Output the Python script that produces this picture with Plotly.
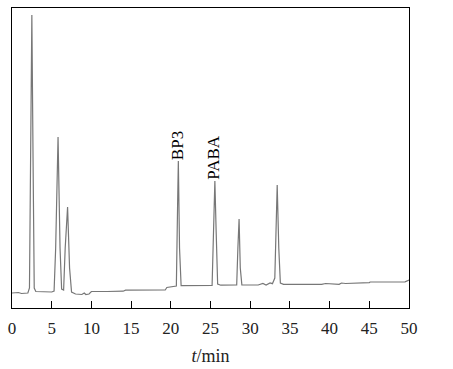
import plotly.graph_objects as go

# Chromatogram trace: retention time (min) and detector signal (arb.)
time_min = [0, 0.8, 1.2, 2.0, 2.2, 2.35, 2.5, 2.65, 2.8, 3.0, 4.0, 5.0, 5.3, 5.5, 5.8, 6.05, 6.25,
            6.5, 6.7, 7.0, 7.25, 7.5, 8.0, 8.8, 9.1, 9.3, 9.7, 10.0, 12.0, 14.0, 14.3, 19.3, 19.5,
            20.5, 20.7, 20.85, 20.95, 21.1, 21.3, 25.2, 25.35, 25.55, 25.7, 25.9, 26.3, 28.3, 28.45,
            28.6, 28.75, 28.95, 29.5, 31.0, 31.6, 32.0, 32.5, 32.8, 33.1, 33.4, 33.6, 33.8, 34.2,
            39.0, 39.5, 40.2, 40.6, 41.2, 41.5, 42.0, 45.0, 45.1, 49.5, 49.8, 50.0]
signal = [15, 15.5, 14.5, 15, 20, 150, 293, 150, 20, 16.5, 16.5, 16, 17, 60, 171, 60, 19,
          18, 60, 101, 40, 16, 14, 13.5, 15, 13.5, 14, 16.5, 16.5, 16.8, 17.8, 18, 20.5,
          21.3, 22, 100, 147, 60, 22.3, 22.5, 60, 127, 80, 24, 22.8, 23, 60,
          89, 40, 23.2, 23, 23, 24.5, 23, 25, 24.3, 30, 123, 60, 25, 23.7,
          23.7, 24.5, 24.2, 23.3, 23.7, 25, 24.5, 25.3, 26, 26.2, 27.5, 28]

peak_labels = ["BP3", "PABA"]
label_x = [20.8, 25.28]
label_y = [162, 151]

tick_vals = [0, 5, 10, 15, 20, 25, 30, 35, 40, 45, 50]
tick_text = ["0", "5", "10", "15", "20", "25", "30", "35", "40", "45", "50"]

fig = go.Figure()
fig.add_trace(go.Scatter(x=time_min, y=signal, mode="lines",
                         line=dict(color="#777777", width=1.2), showlegend=False,
                         hoverinfo="skip"))

for txt, xv, yv in zip(peak_labels, label_x, label_y):
    fig.add_annotation(x=xv, y=yv, text=txt, textangle=-90, showarrow=False,
                       xanchor="center", yanchor="middle",
                       font=dict(family="Liberation Serif", size=17, color="black"))

fig.update_layout(
    width=453, height=369,
    margin=dict(l=12, r=44, t=8, b=61),
    paper_bgcolor="white", plot_bgcolor="white",
    font=dict(family="Liberation Serif", size=17, color="black"),
    xaxis=dict(range=[0, 50], tickvals=tick_vals, ticktext=tick_text,
               ticks="inside", ticklen=7, tickwidth=1, tickcolor="black",
               ticklabelstandoff=5,
               tickfont=dict(family="Liberation Serif", size=17, color="#222222"),
               showline=True, linecolor="black", linewidth=1, mirror=True,
               showgrid=False, zeroline=False, automargin=False,
               title=dict(text="<i>t</i>/min", standoff=11,
                          font=dict(family="Liberation Serif", size=18, color="#222222"))),
    yaxis=dict(range=[0, 300], showticklabels=False, ticks="",
               showline=True, linecolor="black", linewidth=1, mirror=True,
               showgrid=False, zeroline=False, automargin=False),
)

fig.write_html("out.html", config={"displayModeBar": False},
               post_script="document.body.style.margin='0';")
